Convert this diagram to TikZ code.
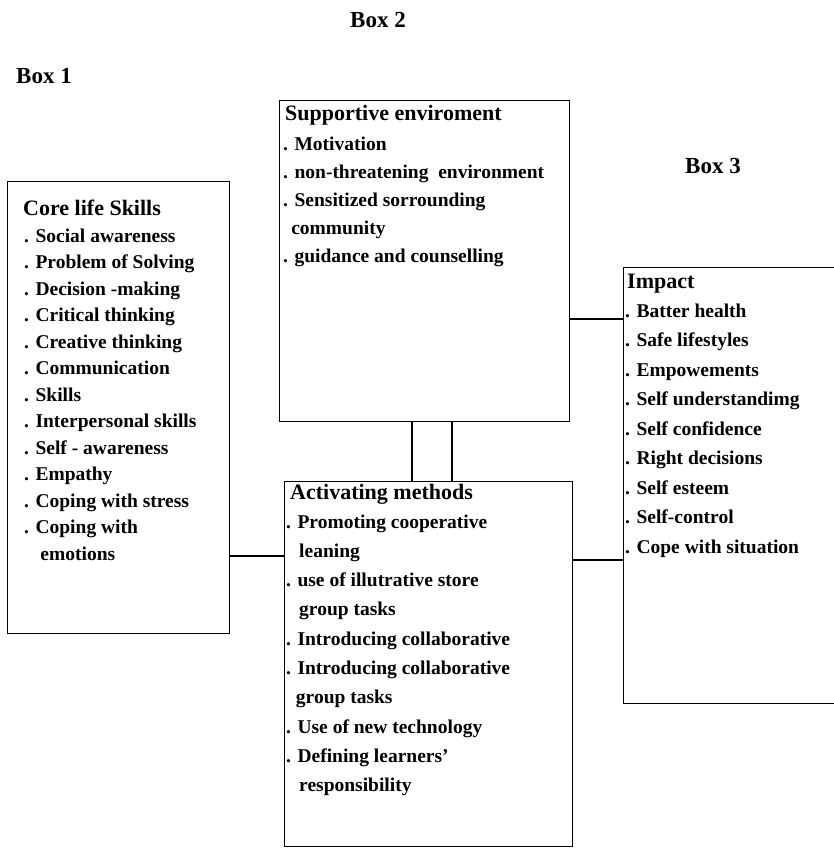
\documentclass[tikz,border=0pt]{standalone}
\usepackage{fontspec}
\setmainfont{Liberation Serif}
\tikzset{
  box/.style={draw, line width=1.2pt, inner sep=0pt, anchor=north west},
  boxlabel/.style={anchor=base west, inner sep=0pt, font=\bfseries\fontsize{23}{27}\selectfont},
  boxtitle/.style={anchor=base west, inner sep=0pt, font=\bfseries\fontsize{22}{26}\selectfont},
  item/.style={anchor=base west, inner sep=0pt, font=\bfseries\fontsize{19.5}{24}\selectfont},
  link/.style={line width=2.2pt}
}
\newcommand{\cont}{\hphantom{.\ }}
\begin{document}
\begin{tikzpicture}[x=1pt,y=-1pt]
\useasboundingbox (0,0) rectangle (834,848);
\clip (0,0) rectangle (834,848);

% labels above the boxes
\node[boxlabel] (lab1) at (16,84) {Box 1};
\node[boxlabel] (lab2) at (350,28) {Box 2};
\node[boxlabel] (lab3) at (685,173) {Box 3};

% the four boxes
\node[box, minimum width=222, minimum height=452] (core) at (7,181) {};
\node[box, minimum width=290, minimum height=321] (sup) at (279,100) {};
\node[box, minimum width=288, minimum height=365] (act) at (284,481) {};
\node[box, minimum width=240, minimum height=436] (imp) at (623,267) {};

% Box 1
\node[boxtitle] (coreT) at (23,215) {Core life Skills};
\foreach \t [count=\i from 0] in {. Social awareness, . Problem of Solving,
  . Decision -making, . Critical thinking, . Creative thinking,
  . Communication, . Skills, . Interpersonal skills, . Self - awareness,
  . Empathy, . Coping with stress, . Coping with, \cont\,\,emotions}
  \node[item] (core\i) at (24,{242+26.5*\i}) {\t};

% Box 2
\node[boxtitle] (supT) at (285,121) {Supportive enviroment};
\foreach \t [count=\i from 0] in {. Motivation,
  . non-threatening~ environment, . Sensitized sorrounding,
  {\hphantom{.}\,community}, . guidance and counselling}
  \node[item] (sup\i) at (283,{150+28*\i}) {\t};

% activating methods
\node[boxtitle] (actT) at (290,499) {Activating methods};
\foreach \t [count=\i from 0] in {. Promoting cooperative, \cont\,leaning,
  . use of illutrative store, \cont\,group tasks,
  . Introducing collaborative, . Introducing collaborative,
  \cont group tasks, . Use of new technology, . Defining learners',
  \cont\,responsibility}
  \node[item] (act\i) at (286,{528+29.3*\i}) {\t};

% Box 3
\node[boxtitle] (impT) at (627,288) {Impact};
\foreach \t [count=\i from 0] in {. Batter health, . Safe lifestyles,
  . Empowements, . Self understandimg, . Self confidence,
  . Right decisions, . Self esteem, . Self-control, . Cope with situation}
  \node[item] (imp\i) at (625,{317+29.5*\i}) {\t};

% connectors
\coordinate (ya) at (0,556);
\coordinate (yb) at (0,560);
\coordinate (yc) at (0,319);
\coordinate (xa) at (412,0);
\coordinate (xb) at (452,0);
\draw[link] (core.east |- ya) -- (act.west |- ya);
\draw[link] (act.east |- yb) -- (imp.west |- yb);
\draw[link] (sup.east |- yc) -- (imp.west |- yc);
\draw[link] (sup.south -| xa) -- (act.north -| xa);
\draw[link] (sup.south -| xb) -- (act.north -| xb);
\end{tikzpicture}
\end{document}
